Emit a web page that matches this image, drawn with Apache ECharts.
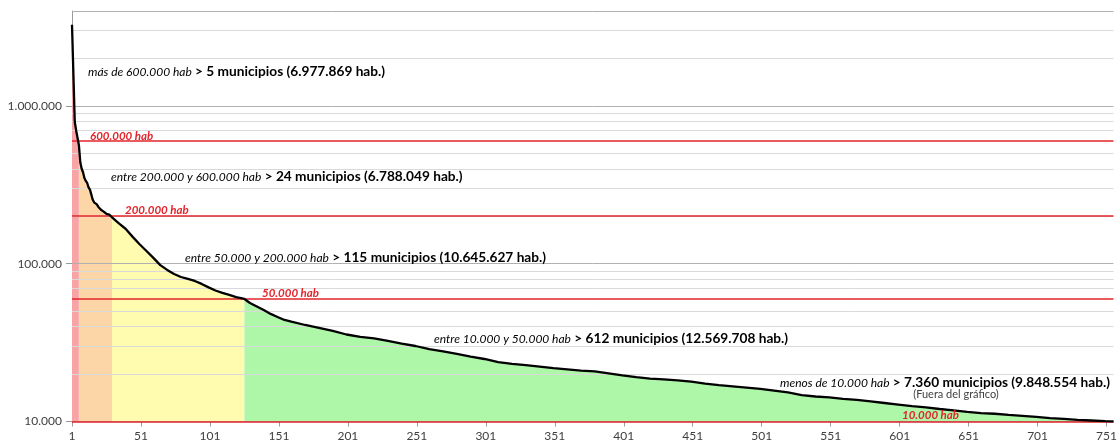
<!DOCTYPE html>
<html lang="es">
<head>
<meta charset="utf-8">
<script src="https://cdn.jsdelivr.net/npm/echarts@6.0.0/dist/echarts.min.js"></script>
</head>
<body style="margin:0">
<div id="container" style="width:1120px;height:446px"></div>
<script>
// municipios ordenados por población (posición en el ranking)
var posicion = [1, 2, 3, 4, 5, 6, 7, 8, 9, 10, 11, 12, 13, 14, 15, 16, 17, 18, 19, 20,
    21, 22, 23, 24, 25, 26, 27, 28, 29, 30, 35, 40, 45, 50, 55, 60, 65, 70, 75, 80,
    85, 90, 95, 100, 105, 110, 115, 120, 126, 130, 135, 140, 145, 150, 155, 160,
    170, 180, 190, 200, 210, 220, 230, 240, 250, 260, 270, 280, 290, 300, 310, 320,
    330, 340, 350, 360, 370, 380, 390, 400, 410, 420, 430, 440, 450, 460, 470, 480,
    490, 500, 510, 520, 530, 540, 550, 560, 570, 580, 590, 600, 610, 620, 630, 640,
    650, 660, 670, 680, 690, 700, 710, 720, 730, 740, 750, 756];
var habitantes = [3270000, 1610000, 795000, 700000, 680000, 565000, 440000, 400000, 380000, 350000,
    335000, 325000, 305000, 295000, 275000, 255000, 245000, 240000, 238000, 230000,
    225000, 220000, 216000, 214000, 211000, 207000, 206000, 205000, 203000, 197000,
    180000, 166000, 148000, 133000, 120500, 109000, 98000, 91400, 86100, 82400,
    80100, 77800, 74500, 70800, 67700, 65300, 63400, 61500, 59800, 56400, 53600, 50900, 48100, 46000, 44000, 42900,
    40900, 39200, 37500, 35600, 34400, 33600, 32400, 31200, 30100, 28800, 27800, 26800, 25800, 24900, 23800, 23200,
    22800, 22300, 21800, 21400, 21000, 20800, 20200, 19600, 19100, 18700, 18500, 18200, 17900, 17400, 17000, 16700,
    16400, 16100, 15700, 15300, 14700, 14400, 14200, 13900, 13700, 13400, 13100, 12800, 12500, 12300, 12000, 11750,
    11500, 11300, 11200, 11000, 10850, 10700, 10500, 10400, 10250, 10150, 10050, 10000];

// tramos de color (posición donde cambia el relleno)
var cortes = [1, 6, 30, 126, 756];
var coloresTramo = ['#f8a4a6', '#fcd6a6', '#fffcb0', '#aef7a9'];

var lineasRojas = [600000, 200000, 60000, 10000];
var rejillaMayor = [100000, 1000000, 4000000];
var rejillaMenor = [20000, 30000, 40000, 50000, 70000, 80000, 90000,
    200000, 300000, 400000, 500000, 700000, 800000, 900000, 2000000, 3000000];

function tramo(desde, hasta) {
    var out = [];
    for (var k = 0; k < posicion.length; k++) {
        if (posicion[k] >= desde && posicion[k] <= hasta) out.push([posicion[k], habitantes[k]]);
    }
    return out;
}
function puntos(v) {
    return String(Math.round(v)).replace(/\B(?=(\d{3})+(?!\d))/g, '.');
}

var fuente = 'Lato';
var rojo = '#e3242b';

var series = [];
for (var t = 0; t < coloresTramo.length; t++) {
    series.push({
        type: 'line',
        data: tramo(cortes[t], cortes[t + 1]),
        symbol: 'none',
        silent: true,
        z: 2,
        lineStyle: { width: 0 },
        areaStyle: { color: coloresTramo[t], opacity: 1, origin: 'start' }
    });
}
var grises = [];
rejillaMenor.forEach(function (v) { grises.push({ yAxis: v, lineStyle: { color: '#d9d9d9' } }); });
rejillaMayor.forEach(function (v) { grises.push({ yAxis: v, lineStyle: { color: '#b0b0b0' } }); });
series[0].markLine = {
    silent: true, symbol: 'none', label: { show: false },
    lineStyle: { type: 'solid', width: 1, color: '#d9d9d9' },
    data: grises
};
// líneas rojas de umbral en su propia serie
series.push({
    type: 'line',
    data: [],
    symbol: 'none',
    silent: true,
    z: 7,
    markLine: {
        silent: true, symbol: 'none', label: { show: false },
        lineStyle: { type: 'solid', width: 1.5, color: rojo },
        data: lineasRojas.map(function (v) { return { yAxis: v }; })
    }
});
series.push({
    type: 'line',
    data: tramo(1, 756),
    symbol: 'none',
    silent: true,
    z: 10,
    lineStyle: { color: '#000', width: 2.3 }
});

function rotulo(x, y, cursiva, negrita) {
    return {
        type: 'text', x: x, y: y, z: 20,
        style: {
            text: '{i|' + cursiva + '}{b| > ' + negrita + '}',
            verticalAlign: 'middle',
            rich: {
                i: { fontFamily: fuente, fontStyle: 'italic', fontSize: 12, color: '#404040' },
                b: { fontFamily: fuente, fontWeight: 'bold', fontSize: 13.7, color: '#222' }
            }
        }
    };
}
function rotuloRojo(x, y, txt) {
    return {
        type: 'text', x: x, y: y, z: 20,
        style: {
            text: txt, verticalAlign: 'middle', fill: rojo,
            fontFamily: fuente, fontStyle: 'italic', fontWeight: 'bold', fontSize: 11.5
        }
    };
}

var myChart = echarts.init(document.getElementById('container'), null, { renderer: 'canvas' });
var option = {
    animation: false,
    grid: { left: 72, right: 5, top: 11, bottom: 24.5 },
    xAxis: {
        type: 'value', min: 1, max: 756, interval: 50,
        splitLine: { show: false },
        axisLine: { onZero: false, lineStyle: { color: '#9a9a9a' } },
        axisTick: { length: 5, lineStyle: { color: '#9a9a9a' } },
        axisLabel: { showMaxLabel: false, fontFamily: fuente, fontSize: 12, color: '#404040', margin: 9 }
    },
    yAxis: {
        type: 'log', logBase: 10, min: 10000, max: 4000000,
        splitLine: { show: false },
        axisLine: { show: true, onZero: false, lineStyle: { color: '#9a9a9a' } },
        axisTick: { show: true, length: 6, lineStyle: { color: '#9a9a9a' } },
        axisLabel: { showMaxLabel: false, fontFamily: fuente, fontSize: 12, color: '#404040', margin: 10, formatter: puntos }
    },
    series: series,
    graphic: [
        rotulo(88, 72, 'más de 600.000 hab', '5 municipios (6.977.869 hab.)'),
        rotulo(111, 177, 'entre 200.000 y 600.000 hab', '24 municipios (6.788.049 hab.)'),
        rotulo(185, 258, 'entre 50.000 y 200.000 hab', '115 municipios (10.645.627 hab.)'),
        rotulo(434, 339, 'entre 10.000 y 50.000 hab', '612 municipios (12.569.708 hab.)'),
        rotulo(780, 383, 'menos de 10.000 hab', '7.360 municipios (9.848.554 hab.)'),
        {
            type: 'text', x: 956, y: 394, z: 20,
            style: { text: '(Fuera del gráfico)', align: 'center', verticalAlign: 'middle', fill: '#404040', fontFamily: fuente, fontSize: 11 }
        },
        rotuloRojo(90, 136, '600.000 hab'),
        rotuloRojo(125, 210, '200.000 hab'),
        rotuloRojo(262, 293, '50.000 hab'),
        rotuloRojo(902, 415, '10.000 hab')
    ]
};
myChart.setOption(option);
window.addEventListener('resize', myChart.resize);
</script>
</body>
</html>
